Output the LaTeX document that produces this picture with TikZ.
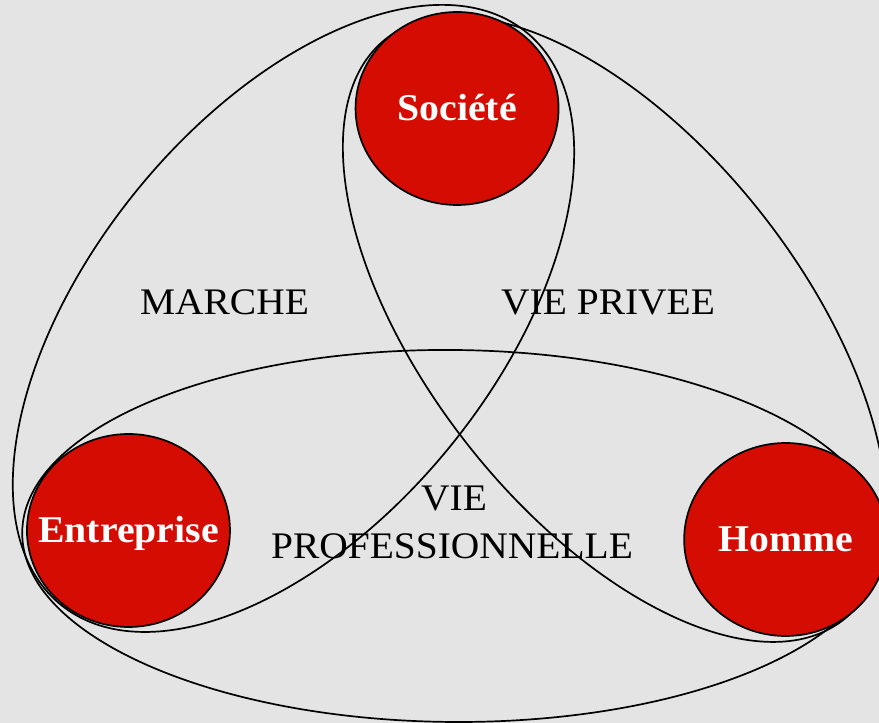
\documentclass[tikz,border=0pt]{standalone}
\usepackage{fontspec}
\setmainfont{Liberation Serif}
\definecolor{bgcol}{HTML}{E4E4E4}
\definecolor{circred}{HTML}{D50C02}
\tikzset{
  loop/.style={draw=black, line width=1.7pt},
  bubble/.style={circle, draw=black, line width=1.7pt, fill=circred, minimum size=193pt, inner sep=0pt,
    text=white, font=\fontsize{37.8}{40}\selectfont\bfseries, text height=25pt, text depth=0pt, transform shape},
  lbl/.style={anchor=base, text=black, font=\fontsize{37.5}{40}\selectfont, inner sep=0pt, transform shape}
}
\begin{document}
\begin{tikzpicture}[x=1pt,y=1pt]
\useasboundingbox (0,0) rectangle (879,723);
\fill[bgcol] (0,0) rectangle (879,723);
\begin{scope}[xscale=1.052]
  % centres of the three bubbles
  \coordinate (cS) at (434.4,614.5);
  \coordinate (cE) at (122.1,192.5);
  \coordinate (cH) at (746.7,183.5);
  % three overlapping loops
  \coordinate (mEH) at (429.7,187);
  \coordinate (mSE) at (279,404.5);
  \coordinate (mSH) at (584.5,393.7);
  \draw[loop, rotate around={-0.5:(mEH)}] (mEH) ellipse [x radius=408.7, y radius=186];
  \draw[loop, rotate around={53.5:(mSE)}] (mSE) ellipse [x radius=362, y radius=196];
  \draw[loop, rotate around={125.9:(mSH)}] (mSH) ellipse [x radius=363, y radius=181];
  % bubbles
  \node[bubble] (soc) at (cS) {Société};
  \node[bubble] (ent) at (cE) {Entreprise};
  \node[bubble] (hom) at (cH) {Homme};
  % labels
  \node[lbl] (marche) at (213.4,408) {MARCHE};
  \node[lbl] (privee) at (578,408) {VIE PRIVEE};
  \node[lbl] (vie) at (431.6,212.3) {VIE};
  \node[lbl] (prof) at (429.7,164.7) {PROFESSIONNELLE};
\end{scope}
\end{tikzpicture}
\end{document}
